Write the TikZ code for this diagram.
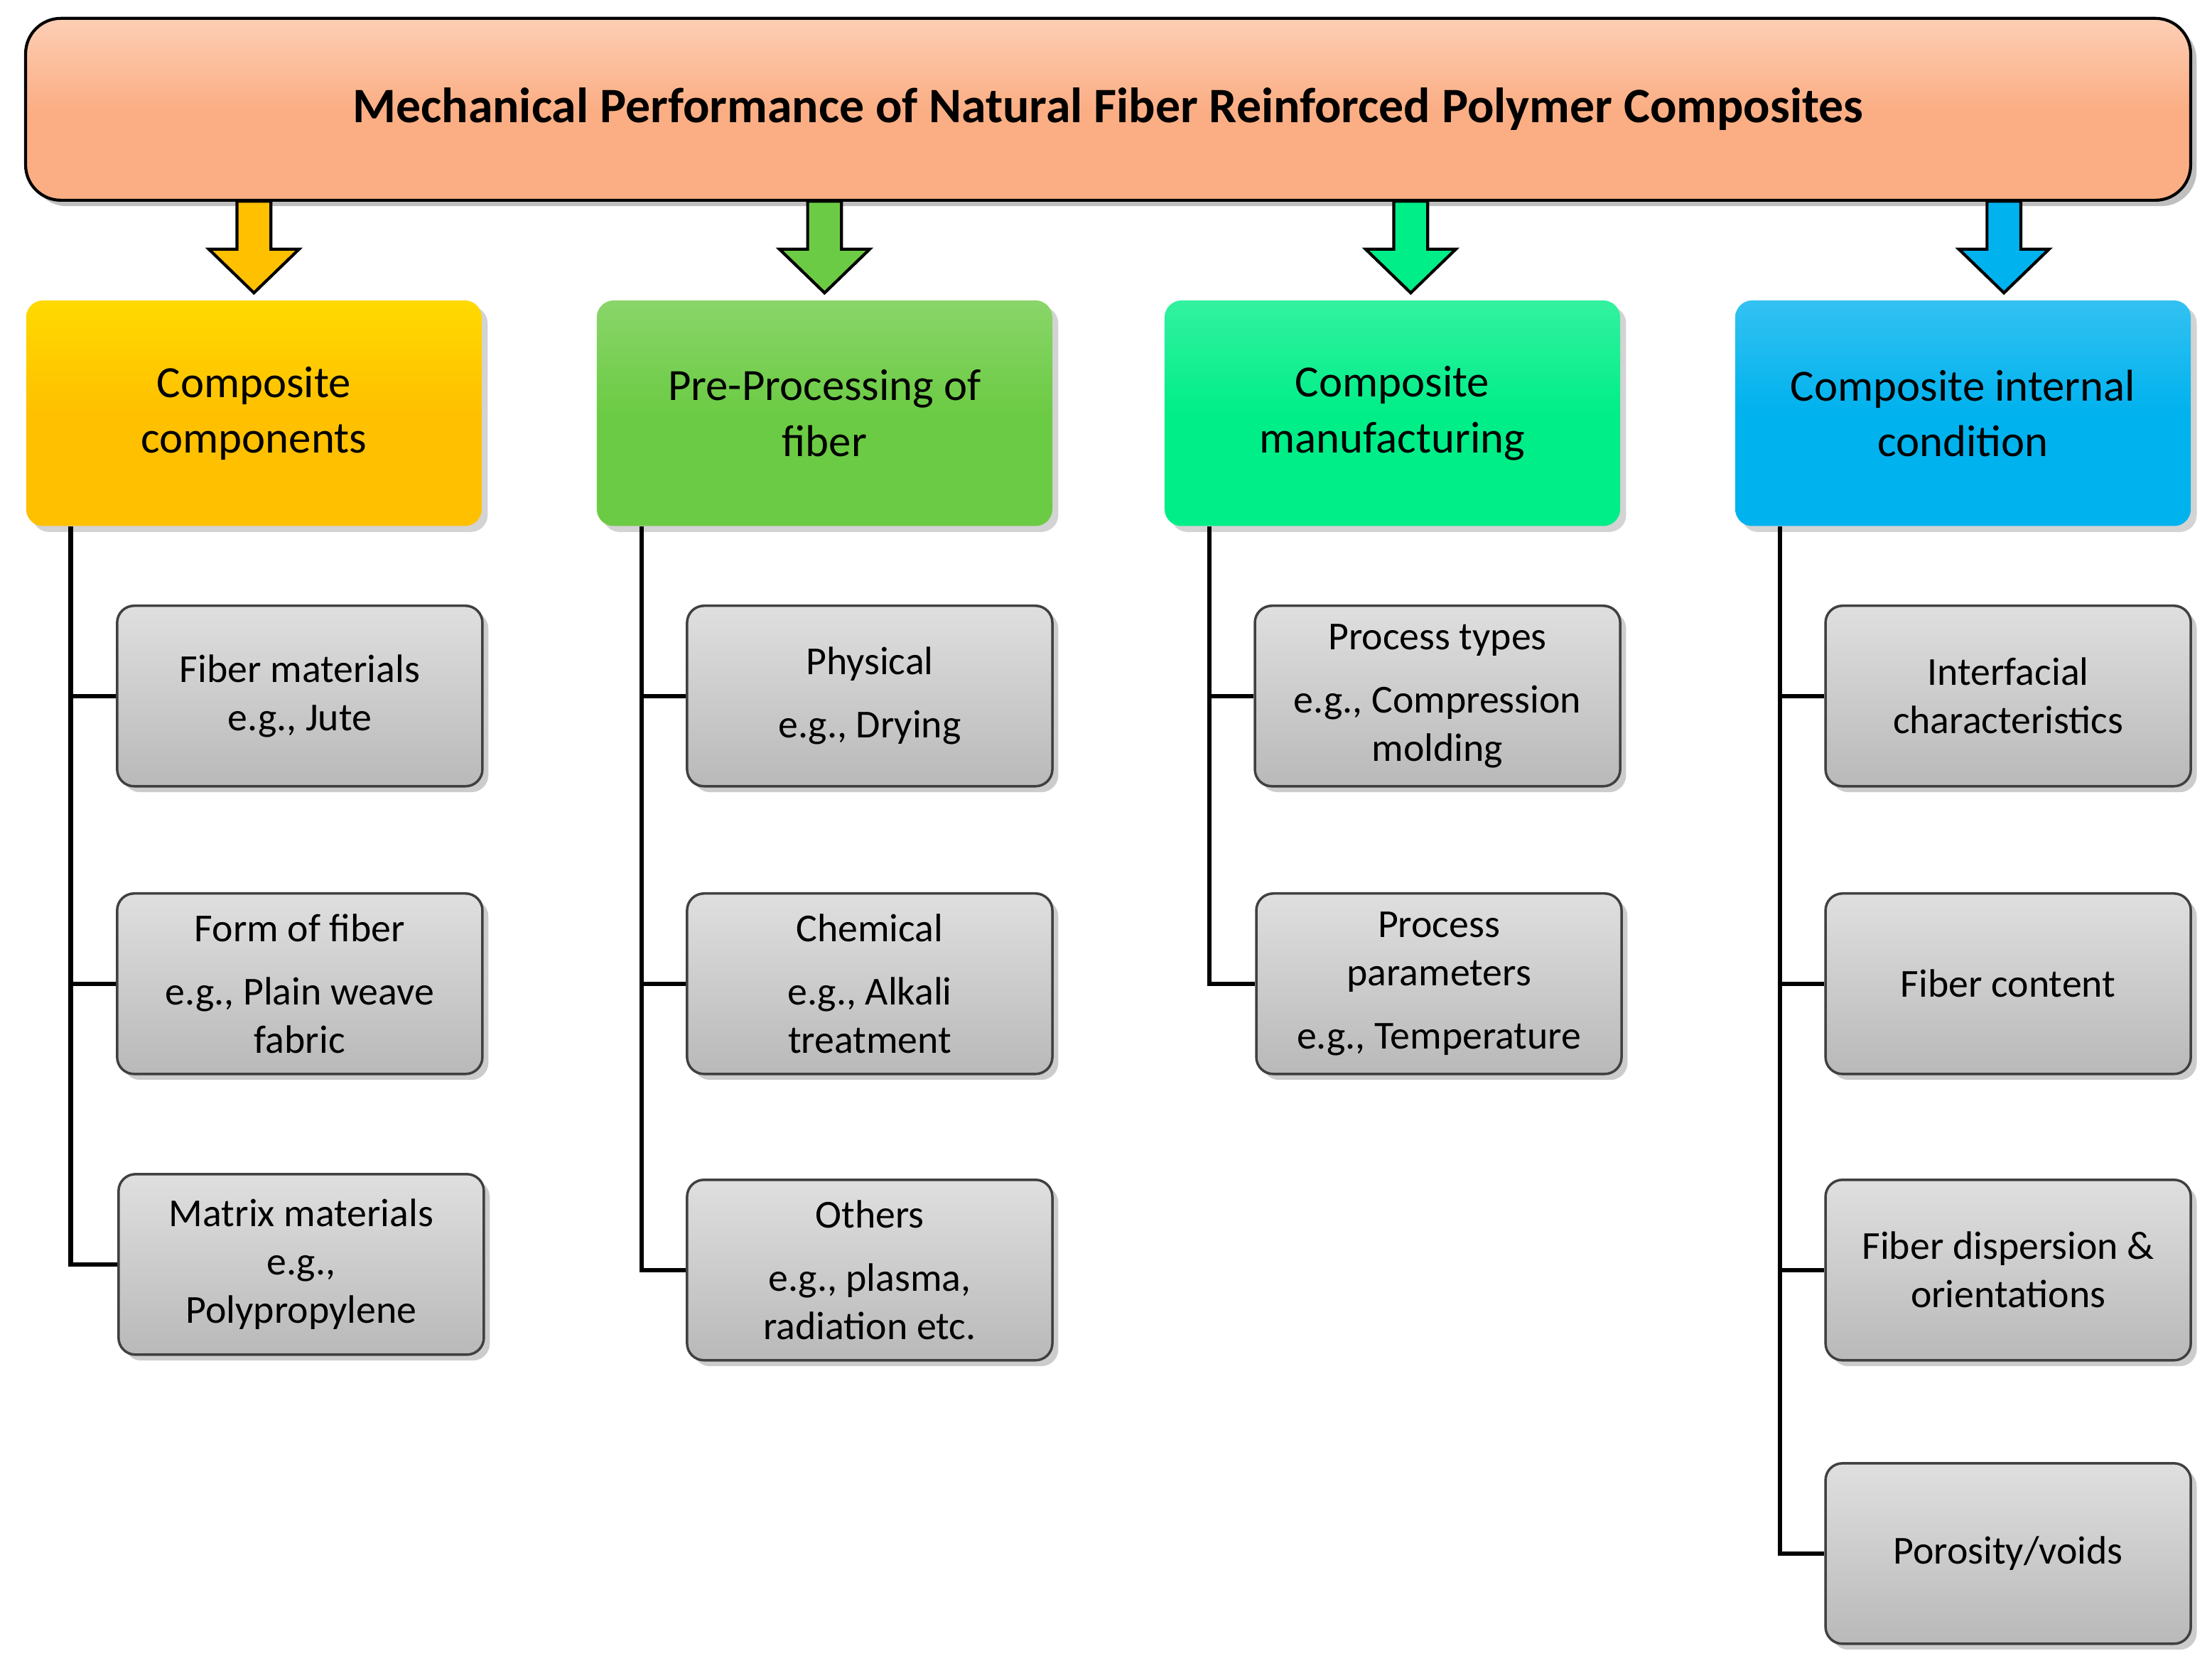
\documentclass[tikz,border=0pt]{standalone}
\usepackage{fontspec}
\setmainfont{Carlito}
\usetikzlibrary{shadows,calc}
\definecolor{titlec}{HTML}{FBAE84}
\definecolor{c1}{HTML}{FFC000}
\definecolor{c2}{HTML}{6CCB44}
\definecolor{c3}{HTML}{00EE88}
\definecolor{c4}{HTML}{00B2EE}
\tikzset{
  x=0.02cm, y=-0.02cm,
  title/.style={draw=black, line width=1.2pt, rounded corners=0.5cm,
    top color=titlec!60!white, bottom color=titlec, middle color=titlec,
    minimum width=30.7cm, minimum height=2.58cm, drop shadow,
    font=\fontsize{20}{24}\selectfont\bfseries},
  head/.style={rounded corners=0.24cm, minimum width=6.46cm, minimum height=3.2cm,
    align=center, drop shadow={opacity=0.35},
    font=\fontsize{18}{22.5}\selectfont},
  item/.style={draw=black!75, line width=1pt, rounded corners=0.24cm,
    top color=gray!25, bottom color=gray!55, middle color=gray!40,
    minimum width=5.18cm, minimum height=2.56cm, align=center,
    drop shadow={opacity=0.4}, font=\fontsize{16}{19.5}\selectfont},
  tree/.style={line width=1.8pt, black},
  blk/.style={draw=black, line width=1.2pt},
}
\newcommand{\downarr}[2]{% anchor coordinate, colour
  \filldraw[blk, fill=#2] ($(#1)+(-12,-70)$) -- ($(#1)+(12,-70)$) -- ($(#1)+(12,-36)$)
    -- ($(#1)+(32,-36)$) -- ($(#1)+(0,-5)$) -- ($(#1)+(-32,-36)$) -- ($(#1)+(-12,-36)$) -- cycle;}
\begin{document}
\begin{tikzpicture}
\useasboundingbox (0,0) rectangle (1568,1182.6);
\node[title] (t) at (785.5,77.5) {Mechanical Performance of Natural Fiber Reinforced Polymer Composites};

\node[head, top color=c1!60!yellow, bottom color=c1, middle color=c1] (h1) at (180,293) {Composite\\components};
\node[head, top color=c2!80!white, bottom color=c2, middle color=c2] (h2) at (584.5,293) {Pre-Processing of\\fiber};
\node[head, top color=c3!80!white, bottom color=c3, middle color=c3] (h3) at (987,293) {Composite\\manufacturing};
\node[head, top color=c4!80!white, bottom color=c4, middle color=c4] (h4) at (1391.5,293) {Composite internal\\condition};

\downarr{h1.north}{c1}
\downarr{h2.north}{c2}
\path (h3.north) ++(13,0) coordinate (a3);
\downarr{a3}{c3}
\path (h4.north) ++(29,0) coordinate (a4);
\downarr{a4}{c4}

\node[item] (b11) at (212.5,493.5) {Fiber materials\\e.g., Jute};
\node[item] (b12) at (212.5,697.5) {Form of fiber\\[6pt]e.g., Plain weave\\fabric};
\node[item] (b13) at (213.5,896.5) {Matrix materials\\e.g.,\\Polypropylene};

\node[item] (b21) at (616.5,493.5) {Physical\\[6pt]e.g., Drying};
\node[item] (b22) at (616.5,697.5) {Chemical\\[6pt]e.g., Alkali\\treatment};
\node[item] (b23) at (616.5,900.5) {Others\\[6pt]e.g., plasma,\\radiation etc.};

\node[item] (b31) at (1019,493.5) {Process types\\[6pt]e.g., Compression\\molding};
\node[item] (b32) at (1020,697.5) {Process\\parameters\\[6pt]e.g., Temperature};

\node[item] (b41) at (1423.5,493.5) {Interfacial\\characteristics};
\node[item] (b42) at (1423.5,697.5) {Fiber content};
\node[item] (b43) at (1423.5,900.5) {Fiber dispersion \&\\orientations};
\node[item] (b44) at (1423.5,1101.5) {Porosity/voids};

\path (h1.south west) ++(32,0) coordinate (v1);
\path (h2.south west) ++(32,0) coordinate (v2);
\path (h3.south west) ++(32,0) coordinate (v3);
\path (h4.south west) ++(32,0) coordinate (v4);
\draw[tree] (v1) |- (b13.west) (v1 |- b11.west) -- (b11.west) (v1 |- b12.west) -- (b12.west);
\draw[tree] (v2) |- (b23.west) (v2 |- b21.west) -- (b21.west) (v2 |- b22.west) -- (b22.west);
\draw[tree] (v3) |- (b32.west) (v3 |- b31.west) -- (b31.west);
\draw[tree] (v4) |- (b44.west) (v4 |- b41.west) -- (b41.west) (v4 |- b42.west) -- (b42.west)
  (v4 |- b43.west) -- (b43.west);
\end{tikzpicture}
\end{document}
